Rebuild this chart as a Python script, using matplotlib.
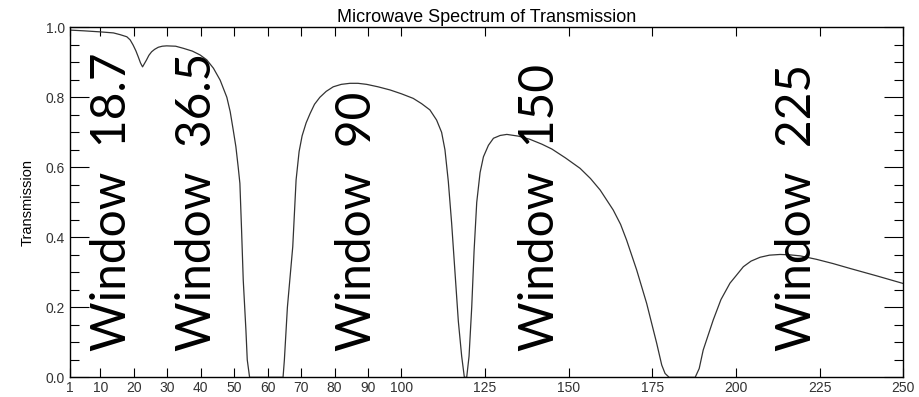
import matplotlib
matplotlib.use('Agg')
import matplotlib.pyplot as plt

# frequency (GHz) and transmission
freq = [1, 5, 9.9, 13.9, 15.9, 17.9, 18.9, 19.8, 20.6, 21.3, 22, 22.6, 23.2,
        23.8, 24.5, 25.3, 26.2, 27.3, 28.5, 29.8, 32.5, 34.8, 37.5, 39.8, 41.8,
        43.8, 45.8, 47.8, 48.8, 49.7, 50.5, 51.2, 51.7, 52.2, 52.7, 53.5, 53.9,
        54.6, 60, 64.6, 65.0, 65.9, 67.5, 68.5, 69.4, 70.3, 71.5, 72.7, 74, 75.6,
        77.5, 79.6, 82, 84.6, 87, 89.6, 93, 96.6, 100, 103.5, 106, 108.5, 110.5,
        112, 113, 114, 115, 116, 117, 118, 118.8, 119.5, 120.2, 121, 121.7, 122.5,
        123.5, 124.5, 126, 127.5, 129.5, 131.5, 135, 138.4, 142, 145, 149, 153.4,
        156.5, 159.4, 163.3, 165.5, 167.3, 170.3, 173.3, 176.3, 177.8, 178.8, 180,
        187.8, 189, 190.2, 193.2, 195.5, 198.2, 200, 202.2, 204.5, 207.2, 210,
        213.2, 216, 219.2, 224.1, 229, 234.1, 242, 250]
trans = [0.992, 0.99, 0.987, 0.984, 0.979, 0.973, 0.964, 0.949, 0.933, 0.916,
         0.898, 0.887, 0.897, 0.907, 0.92, 0.93, 0.937, 0.943, 0.946, 0.947,
         0.946, 0.94, 0.932, 0.921, 0.907, 0.883, 0.849, 0.80, 0.759, 0.707,
         0.659, 0.60, 0.554, 0.421, 0.278, 0.135, 0.05, 0.0, 0.0, 0.0, 0.05,
         0.2, 0.373, 0.564, 0.645, 0.69, 0.727, 0.754, 0.78, 0.80, 0.817, 0.83,
         0.837, 0.84, 0.84, 0.837, 0.83, 0.821, 0.81, 0.797, 0.782, 0.764,
         0.735, 0.70, 0.65, 0.56, 0.44, 0.30, 0.16, 0.06, 0.0, 0.0, 0.06, 0.2,
         0.36, 0.5, 0.585, 0.63, 0.663, 0.683, 0.691, 0.694, 0.689, 0.68, 0.666,
         0.652, 0.627, 0.597, 0.568, 0.535, 0.478, 0.437, 0.392, 0.307, 0.211,
         0.097, 0.035, 0.011, 0.0, 0.0, 0.025, 0.078, 0.164, 0.222, 0.269, 0.29,
         0.316, 0.332, 0.343, 0.349, 0.351, 0.35, 0.347, 0.337, 0.325, 0.311,
         0.29, 0.268]

xticks = [1, 10, 20, 30, 40, 50, 60, 70, 80, 90, 100, 125, 150, 175, 200, 225, 250]
windows = ['Window  18.7', 'Window  36.5', 'Window  90', 'Window  150', 'Window  225']
window_x = [13.5, 38.9, 86.7, 141.4, 218.1]

plt.rcParams['font.family'] = ['Liberation Sans', 'DejaVu Sans']

fig = plt.figure(figsize=(9.2, 3.97), dpi=100)
ax = fig.add_axes([0.0764, 0.0496, 0.9054, 0.8816])

ax.plot(freq, trans, color='#333333', lw=0.9)

ax.set_xlim(1, 250)
ax.set_ylim(0, 1.0)
ax.set_xticks(xticks)
ax.set_xticklabels([str(t) for t in xticks])
ax.set_yticks([0.0, 0.2, 0.4, 0.6, 0.8, 1.0])
ax.set_yticks([i * 0.05 for i in range(21)], minor=True)
ax.yaxis.set_major_formatter(matplotlib.ticker.FormatStrFormatter('%.1f'))

ax.tick_params(axis='x', which='both', direction='in', top=True, length=6.5,
               width=0.8, labelsize=10, pad=3, labelcolor='#333333')
ax.tick_params(axis='y', which='major', direction='in', right=True, length=14,
               width=0.8, labelsize=10, pad=4, labelcolor='#333333')
ax.tick_params(axis='y', which='minor', direction='in', right=True, length=6.5,
               width=0.8)
for s in ax.spines.values():
    s.set_linewidth(1.0)

ax.set_title('Microwave Spectrum of Transmission', fontsize=13, pad=4)
ax.set_ylabel('Transmission', fontsize=10.5, labelpad=8)

for label, x in zip(windows, window_x):
    ax.text(x, 0.075, label, rotation=90, ha='center', va='bottom',
            fontsize=34.5, family=['Lato', 'DejaVu Sans'], color='black')

fig.savefig('out.png', dpi=100)
